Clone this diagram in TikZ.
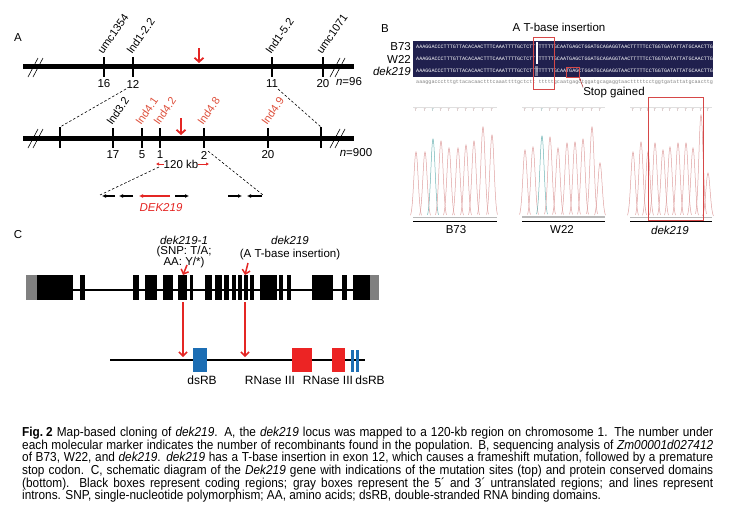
\documentclass[tikz,border=0pt]{standalone}
\usepackage{fontspec}
\setmainfont{Liberation Sans}
\newfontfamily\seqfont{Liberation Mono}
\newfontfamily\capfont[FakeStretch=0.91]{Liberation Sans}
\usetikzlibrary{arrows.meta, positioning, calc}
\definecolor{mkred}{RGB}{228,38,36}
\definecolor{indred}{RGB}{222,80,60}
\definecolor{seqnavy}{RGB}{32,32,78}
\definecolor{boxred}{RGB}{214,72,72}
\definecolor{peakred}{RGB}{222,160,160}
\definecolor{peakteal}{RGB}{110,180,180}
\definecolor{utrgray}{RGB}{128,128,128}
\definecolor{dsblue}{RGB}{28,110,180}
\definecolor{rnred}{RGB}{236,36,36}
\tikzset{
  lbl/.style={font=\fontsize{11.5}{12}\selectfont, inner sep=0pt},
  mkname/.style={font=\fontsize{11}{12}\selectfont, inner sep=0pt, rotate=55, anchor=base west},
  panel/.style={font=\fontsize{11.5}{12}\selectfont, inner sep=0pt},
  chrom/.style={fill=black},
  tickline/.style={line width=1.2pt},
  brk/.style={line width=0.6pt},
  zoomline/.style={line width=0.6pt, dash pattern=on 2.5pt off 2pt},
  locus/.style={draw=mkred, line width=1.8pt, -{Straight Barb[length=4pt,width=9pt]}},
  gene/.style={line width=1.4pt, -{Latex[length=4pt,width=4pt]}},
  kb/.style={draw=mkred, line width=0.9pt, -{Latex[length=3pt,width=3.5pt]}},
  seqrow/.style={font=\fontsize{5.1}{5.1}\seqfont, inner sep=0pt, anchor=west},
  peak/.style={line width=0.5pt},
  mut/.style={draw=mkred, line width=1.5pt, -{Straight Barb[length=4pt,width=8pt]}},
  exon/.style={fill=black},
  utr/.style={fill=utrgray},
  dom/.style={font=\fontsize{12}{12}\selectfont, inner sep=0pt}
}
\begin{document}
\begin{tikzpicture}[x=1pt, y=-1pt]
\useasboundingbox (0,0) rectangle (732,506);

% Panel A
\node[panel] (labA) at (18,38) {A};
\fill[chrom] (23,63.5) rectangle (354,68.5);
\foreach \bx in {28,33,330,335}
  \draw[brk] (\bx,77) -- ++(10,-19);
\foreach \nm/\px/\cnt [count=\i] in {umc1354/104/16, Ind1-2.2/133/12, Ind1-5.2/272/11, umc1071/323/20} {
  \draw[tickline] (\px,57) -- (\px,77);
  \node[mkname] (tm\i) at (\px-1,55) {\nm};
  \node[lbl] (tc\i) at (\px,84) {\cnt};
}
\node[lbl] (n96) at (349,82) {\textit{n}=96};
\coordinate (arrA1) at (199,48);
\coordinate (arrA2) at (199,63);
\draw[locus] (arrA1) -- (arrA2);

% zoom to fine map
\coordinate (zl1) at (126,89);
\coordinate (zl2) at (60,127);
\coordinate (zr1) at (278,89);
\coordinate (zr2) at (321,127);
\draw[zoomline] (zl1) -- (zl2);
\draw[zoomline] (zr1) -- (zr2);

\fill[chrom] (23,135.5) rectangle (354,140.5);
\foreach \bx in {28,33,330,335}
  \draw[brk] (\bx,148) -- ++(10,-19);
\draw[tickline] (60,127) -- (60,148);
\draw[tickline] (321,127) -- (321,148);
\foreach \nm/\px/\cnt/\col [count=\i] in {Ind3.2/113/17/black, Ind4.1/142/5/indred, Ind4.2/160/1/indred, Ind4.8/204/2/indred, Ind4.9/268/20/indred} {
  \draw[tickline] (\px,128) -- (\px,148);
  \node[mkname, text=\col] (bm\i) at (\px-1,126) {\nm};
  \node[lbl] (bc\i) at (\px,155) {\cnt};
}
\node[lbl] (n900) at (356,153) {\textit{n}=900};
\coordinate (arrB1) at (181,118);
\coordinate (arrB2) at (181,135);
\draw[locus] (arrB1) -- (arrB2);

\node[lbl] (kb) at (181,164) {120 kb};
\draw[kb] (kb.west) -- (156,164);
\draw[kb] (kb.east) -- (209,164);

\coordinate (gl1) at (159,167);
\coordinate (gl2) at (100,195);
\coordinate (gr1) at (208,151);
\coordinate (gr2) at (263,195);
\draw[zoomline] (gl1) -- (gl2);
\draw[zoomline] (gr1) -- (gr2);

% genes in the interval
\foreach \ga/\gb in {115/102, 133/119, 175/189, 228/242, 262/247}
  \draw[gene] (\ga,196) -- (\gb,196);
\draw[gene, draw=mkred] (170,196) -- (139,196);
\node[lbl, text=mkred] (dek) at (161,208) {\textit{DEK219}};

% Panel B
\node[panel] (labB) at (385,29) {B};
\node[lbl] (ins) at (559,27) {A T-base insertion};
\fill[seqnavy] (413,41) rectangle (713,77);
\node[lbl, anchor=east] (rB73) at (411,47) {B73};
\node[lbl, anchor=east] (rW22) at (411,59) {W22};
\node[lbl, anchor=east] (rdek) at (411,71) {\textit{dek219}};
\node[seqrow, text=white] (sB73) at (416,47) {AAAGGACCCTTTGTTACACAACTTTCAAATTTTGCTCTT TTTTTGCAATGAGCTGGATGCAGAGGTAACTTTTTCCTGGTGATATTATGCAACTTG};
\node[seqrow, text=white] (sW22) at (416,59) {AAAGGACCCTTTGTTACACAACTTTCAAATTTTGCTCTT TTTTTGCAATGAGCTGGATGCAGAGGTAACTTTTTCCTGGTGATATTATGCAACTTG};
\fill[seqnavy!60!white] (535.3,66) rectangle (538.4,76);
\node[seqrow, text=white] (sdek) at (416,71) {AAAGGACCCTTTGTTACACAACTTTCAAATTTTGCTCTTTTTTTTGCAATGAGCTGGATGCAGAGGTAACTTTTTCCTGGTGATATTATGCAACTTG};
\fill[white] (536,42) rectangle (538,64);
\node[seqrow, text=gray] (scon) at (416,82) {aaaggaccctttgttacacaactttcaaattttgctctt tttttgcaatgagctggatgcagaggtaactttttcctggtgatattatgcaacttg};
\draw[boxred, line width=0.8pt] (533,37) rectangle (554,89);
\node[draw=boxred, line width=0.8pt, minimum width=13pt, minimum height=10pt, inner sep=0pt] (stopbox) at (572.5,72) {};
\node[lbl] (stop) at (614,93) {Stop gained};
\draw[boxred!80!black, line width=0.6pt, -{Latex[length=2.5pt]}] (stop.north west) -- (stopbox.south east);

% chromatograms
\foreach \xa/\xb/\base [count=\i] in {413/497/217.5, 522/605/217, 630/712/217.5} {
  \draw[gray!25, line width=0.5pt] (\xa,107) -- (\xb,107);
  \draw[gray!55, line width=1.5pt] (\xa,\base) -- (\xb,\base);
  \draw[black, line width=0.8pt] (\xa,\base+4) -- (\xb,\base+4);
}
\foreach \px/\py/\pc in {416/152/peakred, 425/152/peakred, 433/139/peakteal, 441/141/peakred, 449/148/peakred, 458/148/peakred, 466/145/peakred, 474/141/peakred, 483/127/peakred, 492/135/peakred} {
  \draw[peak, \pc] plot[domain=-5.5:5.5, samples=23, smooth] ({\px+\x}, {217.5-(217.5-\py)*exp(-\x*\x/9)});
  \node[font=\fontsize{3.5}{4}\selectfont, text=\pc!70!black, inner sep=0pt] at (\px,110) {T};
}
\foreach \px/\py/\pc in {525/150/peakred, 533/147/peakred, 542/136/peakteal, 550/137/peakred, 558/148/peakred, 567/143/peakred, 575/142/peakred, 583/139/peakred, 592/127/peakred, 600/163/peakred} {
  \draw[peak, \pc] plot[domain=-5.5:5.5, samples=23, smooth] ({\px+\x}, {217-(217-\py)*exp(-\x*\x/9)});
  \node[font=\fontsize{3.5}{4}\selectfont, text=\pc!70!black, inner sep=0pt] at (\px,110) {T};
}
\foreach \px/\py/\pc in {633/152/peakred, 641/142/peakred, 648/152/peakred, 655/143/peakred, 663/150/peakred, 670/147/peakred, 678/143/peakred, 686/143/peakred, 693/148/peakred, 701/115/peakred, 708/173/peakred} {
  \draw[peak, \pc] plot[domain=-5.5:5.5, samples=23, smooth] ({\px+\x}, {217.5-(217.5-\py)*exp(-\x*\x/9)});
  \node[font=\fontsize{3.5}{4}\selectfont, text=\pc!70!black, inner sep=0pt] at (\px,110) {T};
}
\draw[boxred, line width=0.8pt] (648,97) rectangle (703,220);
\node[lbl] (cB73) at (456,230) {B73};
\node[lbl] (cW22) at (562,229) {W22};
\node[lbl] (cdek) at (670,230) {\textit{dek219}};

% Panel C
\node[panel] (labC) at (18,235) {C};
\node[align=center, inner sep=0pt, font=\fontsize{11.5}{10}\selectfont] (m1) at (184,252) {\textit{dek219-1}\\(SNP: T/A;\\AA: Y/*)};
\node[align=center, inner sep=0pt, font=\fontsize{11.5}{12.5}\selectfont] (m2) at (290,248) {\textit{dek219}\\(A T-base insertion)};
\coordinate (t1) at (183,275);
\coordinate (t2) at (245,275);
\draw[mut] (187,265) -- (t1);
\draw[mut] (248,263) -- (t2);

\draw[line width=1.3pt] (27,290) -- (378,290);
\foreach \ea/\eb in {37/73, 80/85, 133/139, 145/157, 163/173, 178/187, 190/193, 205/212, 215/222, 224/229, 232/236, 238/242, 244/248, 250/254, 260/277, 279/283, 287/291, 312/333, 342/347, 353/370}
  \fill[exon] (\ea,275) rectangle (\eb,300);
\fill[utr] (26,275) rectangle (37,300);
\fill[utr] (370,275) rectangle (379,300);

\coordinate (p1a) at (183,302);
\coordinate (p1b) at (183,357);
\coordinate (p2a) at (245,302);
\coordinate (p2b) at (245,357);
\draw[mut] (p1a) -- (p1b);
\draw[mut] (p2a) -- (p2b);

\draw[line width=1.2pt] (110,360) -- (365,360);
\fill[dsblue] (193,348) rectangle (207,372);
\fill[rnred] (292,348) rectangle (312,372);
\fill[rnred] (332,348) rectangle (345,372);
\fill[dsblue] (351,350) rectangle (353.5,372);
\fill[dsblue] (356,350) rectangle (358.5,372);
\node[dom] (d1) at (202,380) {dsRB};
\node[dom] (d2) at (270,380) {RNase III};
\node[dom] (d3) at (328,380) {RNase III};
\node[dom] (d4) at (370,380) {dsRB};

% Caption
\node[anchor=north west, inner sep=0pt, align=left, font=\fontsize{13}{12.6}\capfont] (caption) at (22,427) {%
\makebox[691pt][s]{\textbf{Fig.\hspace{3pt}2} Map-based cloning of \textit{dek219}. A, the \textit{dek219} locus was mapped to a 120-kb region on chromosome 1. The number under}\\
\makebox[691pt][s]{each molecular marker indicates the number of recombinants found in the population. B, sequencing analysis of \textit{Zm00001d027412}}\\
\makebox[691pt][s]{of B73, W22, and \textit{dek219}. \textit{dek219} has a T-base insertion in exon 12, which causes a frameshift mutation, followed by a premature}\\
\makebox[691pt][s]{stop codon. C, schematic diagram of the \textit{Dek219} gene with indications of the mutation sites (top) and protein conserved domains}\\
\makebox[691pt][s]{(bottom). Black boxes represent coding regions; gray boxes represent the 5´ and 3´ untranslated regions; and lines represent}\\
introns. SNP, single-nucleotide polymorphism; AA, amino acids; dsRB, double-stranded RNA binding domains.};
\end{tikzpicture}
\end{document}
